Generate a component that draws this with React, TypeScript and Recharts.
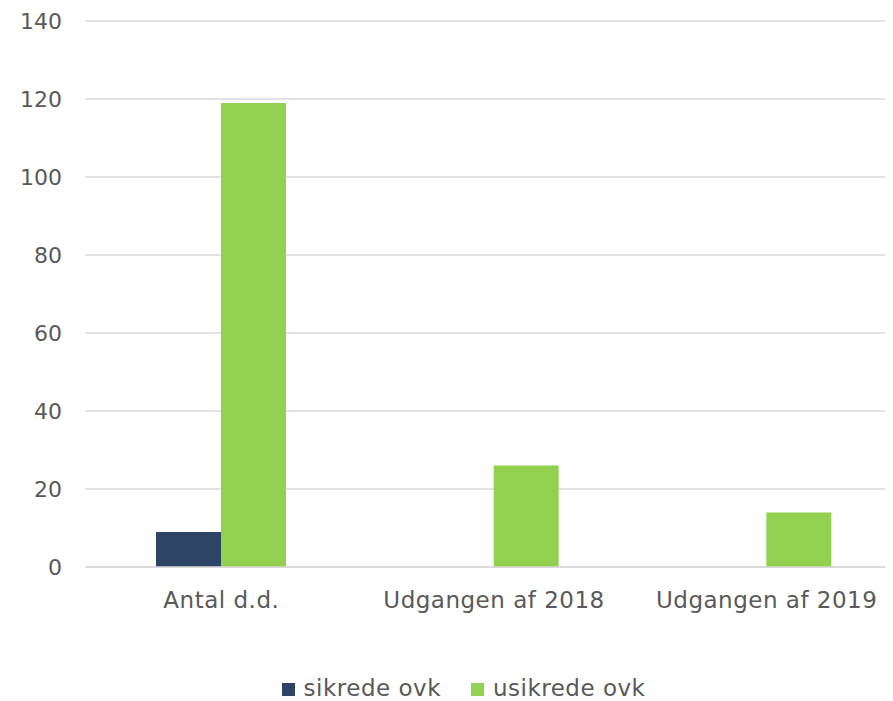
import { Bar, BarChart, CartesianGrid, Legend, XAxis, YAxis } from "recharts";

const categories = ["Antal d.d.", "Udgangen af 2018", "Udgangen af 2019"];
const sikrede = [9, 0, 0];
const usikrede = [119, 26, 14];
const yTicks = [0, 20, 40, 60, 80, 100, 120, 140];

const DARK = "#2E4467";
const GREEN = "#92D050";
const TEXT = "#595959";
const GRID = "#D9D9D9";
const FONT = "'DejaVu Sans', Verdana, sans-serif";

const data = categories.map((name, i) => ({
  name,
  sikrede: sikrede[i],
  usikrede: usikrede[i],
}));

function LegendContent({ payload }: any) {
  return (
    <div
      style={{
        display: "flex",
        justifyContent: "center",
        boxSizing: "border-box",
        paddingLeft: 16,
        paddingTop: 2,
        fontFamily: FONT,
        fontSize: 23,
        letterSpacing: 0.5,
        color: TEXT,
        lineHeight: "26px",
        height: 28,
      }}
    >
      {(payload ?? []).map((p: any) => (
        <div key={p.value} style={{ display: "flex", alignItems: "center", margin: "0 15px" }}>
          <span style={{ width: 13, height: 13, background: p.color, display: "inline-block", marginRight: 9, marginTop: 3 }} />
          <span>{p.value}</span>
        </div>
      ))}
    </div>
  );
}

export default function App() {
  return (
    <div style={{ width: 885, height: 693, overflow: "hidden", fontFamily: FONT }}>
      <BarChart
        width={895}
        height={693}
        data={data}
        margin={{ top: 13, right: 0, left: 0, bottom: 0 }}
        barGap={0}
      >
        <CartesianGrid stroke={GRID} strokeWidth={1.5} vertical={false} />
        <XAxis
          dataKey="name"
          axisLine={{ stroke: GRID, strokeWidth: 1.5 }}
          tickLine={false}
          tickMargin={19}
          height={106}
          fontSize={23}
          fontFamily={FONT}
          tick={{ fill: TEXT, fontSize: 23, fontFamily: FONT, letterSpacing: 0.5 }}
          interval={0}
        />
        <YAxis
          domain={[0, 140]}
          ticks={yTicks}
          width={77}
          axisLine={false}
          tickLine={false}
          tickMargin={17}
          fontSize={22}
          fontFamily={FONT}
          tick={{ fill: TEXT, fontSize: 22, fontFamily: FONT }}
        />
        <Legend verticalAlign="bottom" content={<LegendContent />} />
        <Bar dataKey="sikrede" name="sikrede ovk" fill={DARK} barSize={65} isAnimationActive={false} />
        <Bar dataKey="usikrede" name="usikrede ovk" fill={GREEN} barSize={65} isAnimationActive={false} />
      </BarChart>
    </div>
  );
}
